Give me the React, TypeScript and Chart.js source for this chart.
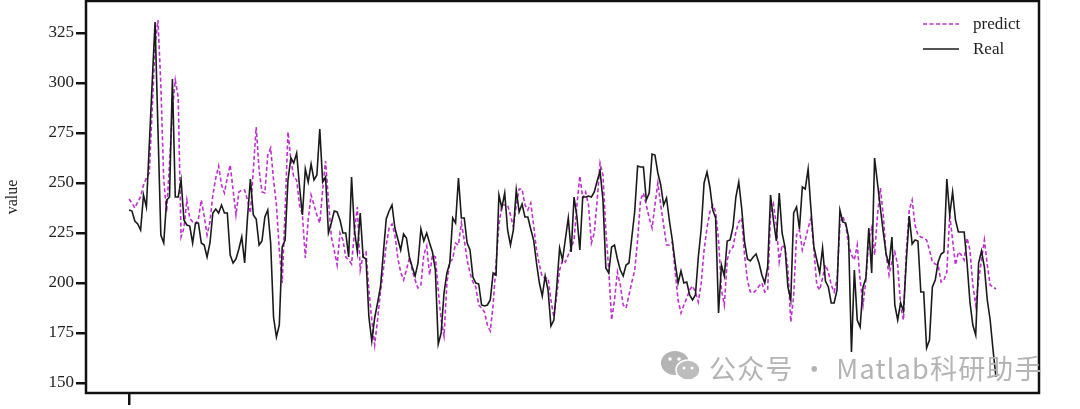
import React, { useEffect, useRef } from "react";
import { Chart, registerables } from "chart.js";

Chart.register(...registerables);

const predict = [
  242, 240, 237.5, 240.5, 243, 249, 252.5, 255, 286.5, 319,
  331.5, 299, 251.5, 235.5, 259.5, 286.5, 301.5, 293, 223, 227.5,
  241.5, 232.5, 230.5, 229.5, 232, 241.5, 233.5, 224, 230.5, 244,
  252.5, 258.5, 249, 245, 252.5, 259, 246.5, 234, 245.5, 246.5,
  246.5, 241.5, 235, 256.5, 278, 256.5, 245.5, 245, 264, 267.5,
  251.5, 239, 216.5, 200, 236.5, 275.5, 261.5, 253, 251.5, 239,
  234, 212.5, 231.5, 244, 239, 234, 230, 246.5, 261, 241.5,
  223, 216.5, 209, 225, 221.5, 213, 211.5, 209.5, 225.5, 238,
  206.5, 214, 215.5, 196.5, 181.5, 169, 181.5, 195.5, 206.5, 219,
  227.5, 229.5, 224, 212.5, 205.5, 201.5, 206.5, 212.5, 206.5, 201.5,
  197.5, 199, 214, 218.5, 204, 214, 213, 196.5, 181.5, 173.5,
  200, 210.5, 212, 220, 219, 230, 221.5, 211.5, 205, 200.5,
  198, 189, 187.5, 185.5, 179, 176, 189, 210, 229, 239,
  239, 239, 234, 228, 239, 247, 247, 239, 236.5, 240,
  229, 216.5, 209, 203, 202.5, 202.5, 191.5, 183, 194, 206.5,
  211.5, 210.5, 214, 217.5, 221.5, 239, 253.5, 242.5, 245.5, 239,
  220, 225, 241.5, 260, 254, 226.5, 206.5, 181.5, 191.5, 205.5,
  199, 189, 187.5, 194, 200.5, 206.5, 221.5, 241.5, 245, 239,
  232.5, 227.5, 239, 250, 239, 229, 219, 219, 220.5, 205.5,
  191.5, 185, 189, 192.5, 196.5, 198.5, 195.5, 190.5, 200, 216.5,
  227.5, 235.5, 239, 235.5, 221.5, 196.5, 189, 211.5, 216.5, 218,
  225.5, 230.5, 232.5, 214, 201.5, 195.5, 195, 196.5, 198.5, 200,
  195.5, 196.5, 234, 239.5, 229, 210.5, 219, 217.5, 207.5, 180.5,
  193.5, 224, 226.5, 216.5, 221.5, 227.5, 232.5, 216.5, 199, 196.5,
  202.5, 209, 205.5, 199, 195.5, 201.5, 229, 233.5, 229, 219,
  214, 211.5, 219, 201.5, 189, 201.5, 221.5, 227.5, 214, 234,
  247.5, 234, 214, 204, 210.5, 215.5, 209, 189, 181.5, 216.5,
  236.5, 241.5, 229, 224, 223, 222.5, 221.5, 216.5, 210.5, 209.5,
  209, 200.5, 201.5, 205.5, 234, 221.5, 209, 215.5, 214, 211.5,
  222.5, 216.5, 199, 189, 201.5, 211.5, 221.5, 209, 199, 198,
  197,
];

const real = [
  236.5, 236, 231, 229.5, 226.5, 244, 238, 269, 300, 330.5,
  277, 224, 220, 241.5, 243, 302, 243, 243, 251.5, 231.5,
  229, 228.5, 220, 230, 230, 220, 219, 213, 220, 235,
  237, 235, 239, 235, 235, 214, 210, 212, 217, 223,
  210, 233, 252, 234, 232, 219, 221, 233, 236.5, 220,
  183, 173, 179, 218, 221.5, 251.5, 262.5, 260, 265, 248,
  234, 257, 250.5, 259.5, 251.5, 254, 277, 250.5, 253, 225,
  230, 236, 235.5, 231.5, 225, 225, 213, 253, 226.5, 215.5,
  235, 213, 212, 183, 171, 182.5, 190, 198, 215, 232,
  236, 239, 227.5, 222, 216.5, 224.5, 222.5, 213, 208, 203.5,
  210, 227, 221, 225, 220, 215.5, 206.5, 169.5, 175, 195,
  205, 210, 232.5, 230, 252.5, 232.5, 232.5, 220, 216.5, 203,
  200, 199.5, 189, 188.5, 189, 191.5, 205, 204, 244, 237.5,
  245, 226.5, 219, 226.5, 246.5, 235.5, 239.5, 233, 233, 227,
  221.5, 210, 200, 193.5, 203.5, 196.5, 178.5, 181.5, 198, 217.5,
  211.5, 222, 232.5, 215.5, 243, 233, 216.5, 243, 243, 243.5,
  243, 245.5, 251, 256, 241.5, 207.5, 205, 218, 219, 212,
  206.5, 203.5, 209, 210, 223, 236, 258.5, 258, 258, 241.5,
  245, 264.5, 264, 255, 249, 239, 242.5, 231, 221.5, 210,
  200, 206, 200, 200.5, 194, 191.5, 194, 213, 227, 250,
  255.5, 248, 236.5, 232.5, 185, 209, 203.5, 221, 221.5, 228,
  243, 250.5, 237.5, 220.5, 212, 211, 213, 214.5, 210, 204,
  200, 208, 244, 231.5, 221, 245, 225, 218, 198, 191.5,
  235, 238, 227, 248, 247, 257, 236.5, 218, 211.5, 205,
  217.5, 201, 198, 190, 190, 196.5, 236.5, 230.5, 230, 223,
  165.5, 206.5, 181.5, 178, 198, 202.5, 227.5, 205, 262.5, 250,
  237.5, 225.5, 214.5, 209, 223, 189, 181.5, 190, 186, 211.5,
  233.5, 219.5, 221.5, 221, 195.5, 195.5, 167.5, 171.5, 198, 201.5,
  210.5, 214.5, 215.5, 252, 234, 245.5, 231.5, 225.5, 225.5, 225.5,
  210, 190.5, 179, 174, 210, 216, 208, 191.5, 181.5, 166.5,
  153,
];

const yTicks = [150, 175, 200, 225, 250, 275, 300, 325];
const xTicks = [0];
const seriesNames = ["predict", "Real"];
const yTitle = "value";
const watermark = "公众号 · Matlab科研助手";

const PURPLE = "#bf2fd0";
const DARK = "#1a1a1a";
const SERIF = '"Liberation Serif", serif';

const framePlugin = {
  id: "frame",
  afterDatasetsDraw(chart: any) {
    const { ctx, chartArea: a } = chart;
    ctx.save();
    ctx.strokeStyle = "#111";
    ctx.lineWidth = 2.5;
    ctx.strokeRect(a.left, a.top, a.right - a.left, a.bottom - a.top);
    ctx.restore();
  },
};

const legendPlugin = {
  id: "cornerLegend",
  afterDraw(chart: any) {
    const { ctx } = chart;
    ctx.save();
    chart.data.datasets.forEach((d: any, i: number) => {
      const y = 24 + i * 25;
      ctx.beginPath();
      ctx.strokeStyle = d.borderColor;
      ctx.lineWidth = 1.5;
      ctx.setLineDash(d.borderDash || []);
      ctx.moveTo(923, y);
      ctx.lineTo(959, y);
      ctx.stroke();
      ctx.setLineDash([]);
      ctx.fillStyle = "#222";
      ctx.font = `17px ${SERIF}`;
      ctx.textBaseline = "middle";
      ctx.fillText(d.label, 973, y + 1);
    });
    ctx.restore();
  },
};

function pts(values: number[]) {
  return values.map((y, x) => ({ x, y }));
}

export default function App() {
  const ref = useRef<HTMLCanvasElement>(null);
  useEffect(() => {
    document.body.style.margin = "0";
    const chart = new Chart(ref.current as HTMLCanvasElement, {
      type: "line",
      data: {
        datasets: [
          {
            label: seriesNames[0],
            data: pts(predict),
            borderColor: PURPLE,
            borderWidth: 1.6,
            borderDash: [4, 2.5],
            pointRadius: 0,
            tension: 0,
            order: 2,
          },
          {
            label: seriesNames[1],
            data: pts(real),
            borderColor: DARK,
            borderWidth: 1.6,
            pointRadius: 0,
            tension: 0,
            order: 1,
          },
        ],
      },
      options: {
        animation: false,
        responsive: false,
        layout: { padding: { top: 1, right: 41, left: 0, bottom: 0 } },
        plugins: { legend: { display: false }, tooltip: { enabled: false } },
        scales: {
          x: {
            type: "linear",
            min: -14.9,
            max: 314.9,
            grid: { drawOnChartArea: false, color: "#111", lineWidth: 2.5, tickLength: 12 },
            border: { display: false },
            afterBuildTicks(s: any) {
              s.ticks = xTicks.map((value) => ({ value }));
            },
            afterFit(s: any) {
              s.height = 16;
              s.paddingLeft = 0;
              s.paddingRight = 0;
            },
            ticks: { callback: () => "", padding: 0, maxRotation: 0 },
          },
          y: {
            min: 145,
            max: 341,
            grid: { drawOnChartArea: false, color: "#111", lineWidth: 2.5, tickLength: 10 },
            border: { display: false },
            afterBuildTicks(s: any) {
              s.ticks = yTicks.map((value) => ({ value }));
            },
            afterFit(s: any) {
              s.width = 86;
              s.paddingTop = 0;
              s.paddingBottom = 0;
            },
            ticks: { color: "#222", font: { family: SERIF, size: 17 }, padding: 2 },
            title: {
              display: true,
              text: yTitle,
              color: "#222",
              font: { family: SERIF, size: 16 },
              padding: { top: 3, bottom: 0 },
            },
          },
        },
      },
      plugins: [framePlugin, legendPlugin],
    } as any);
    return () => chart.destroy();
  }, []);

  return (
    <div style={{ position: "relative", width: 1080, height: 409, overflow: "hidden", background: "#fff" }}>
      <canvas ref={ref} width={1080} height={409} style={{ display: "block" }} />
      <svg width="42" height="34" viewBox="0 0 42 34" style={{ position: "absolute", left: 660, top: 349 }}>
        <ellipse cx="15" cy="14" rx="14" ry="12" fill="#b4b4b4" />
        <ellipse cx="28" cy="21" rx="12" ry="10" fill="#bdbdbd" stroke="#fff" strokeWidth="1.5" />
        <circle cx="10" cy="10" r="1.8" fill="#fff" />
        <circle cx="19" cy="10" r="1.8" fill="#fff" />
        <circle cx="24" cy="19" r="1.5" fill="#fff" />
        <circle cx="32" cy="19" r="1.5" fill="#fff" />
      </svg>
      <div
        style={{
          position: "absolute",
          left: 709,
          top: 350,
          fontFamily: '"Noto Sans CJK SC", sans-serif',
          fontSize: 27,
          letterSpacing: 1.2,
          lineHeight: "36px",
          color: "#b4b4b4",
          whiteSpace: "nowrap",
        }}
      >
        {watermark}
      </div>
    </div>
  );
}
